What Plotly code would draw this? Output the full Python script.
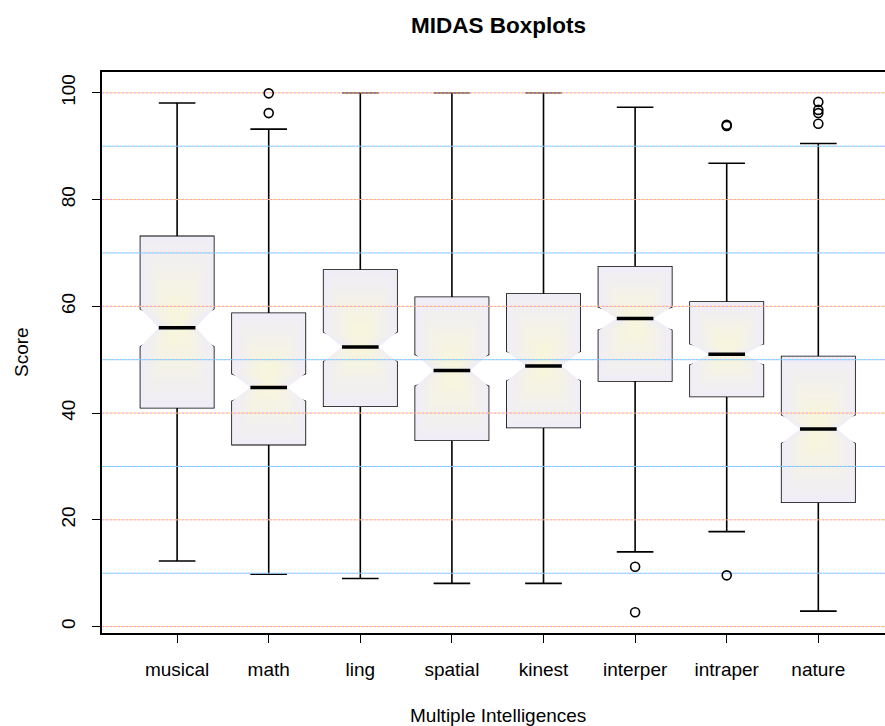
import plotly.graph_objects as go

# MIDAS scores by intelligence domain (five-number summaries read as box statistics)
categories = ["musical", "math", "ling", "spatial", "kinest", "interper", "intraper", "nature"]
q1 = [41.0, 34.1, 41.3, 34.9, 37.3, 46.0, 43.1, 23.3]
median = [56.0, 44.8, 52.4, 48.0, 48.8, 57.7, 51.0, 37.0]
q3 = [73.1, 58.7, 66.8, 61.7, 62.3, 67.4, 60.8, 50.6]
lower_whisker = [12.3, 9.8, 9.0, 8.1, 8.1, 14.0, 17.8, 2.9]
upper_whisker = [98.1, 93.2, 100.0, 100.0, 100.0, 97.3, 86.8, 90.5]
notch_half = [3.55, 2.6, 2.8, 3.0, 2.8, 2.2, 2.0, 2.7]
outliers = {
    "math": [99.9, 96.2],
    "interper": [11.2, 2.7],
    "intraper": [93.8, 94.0, 9.6],
    "nature": [98.3, 96.8, 96.2, 94.2],
}
grid_levels = [0, 10, 20, 30, 40, 50, 60, 70, 80, 90, 100]
y_ticks = [0, 20, 40, 60, 80, 100]

FONT = "Liberation Sans, Arial, Helvetica, sans-serif"
BOX_W = 0.8          # box width in category units
NOTCH_W = 0.5        # notch inset as fraction of box width
X_RANGE = [0.18, 8.728]
Y_RANGE = [-1.2, 103.9]

pos = list(range(1, len(categories) + 1))
fig = go.Figure()


def notch_outline(x, lo, med, hi, nh, hw):
    xs = [x - hw, x - hw, x - hw * NOTCH_W, x - hw, x - hw,
          x + hw, x + hw, x + hw * NOTCH_W, x + hw, x + hw, x - hw]
    ys = [lo, med - nh, med, med + nh, hi, hi, med + nh, med, med - nh, lo, lo]
    return xs, ys


# soft pastel fill: nested, shrinking copies of each notched box
outer = (240, 237, 247)
inner = (247, 245, 222)
layers = 10
for i, x in enumerate(pos):
    xs, ys = notch_outline(x, q1[i], median[i], q3[i], notch_half[i], BOX_W / 2)
    cy = (q1[i] + q3[i]) / 2
    for k in range(layers):
        s = 1.0 - 0.85 * k / layers
        t = k / (layers - 1)
        col = "rgb(%d,%d,%d)" % tuple(round(o + (n - o) * t) for o, n in zip(outer, inner))
        fig.add_trace(go.Scatter(
            x=[x + s * (px - x) for px in xs],
            y=[cy + s * (py - cy) for py in ys],
            mode="lines", fill="toself", fillcolor=col,
            line=dict(width=0), hoverinfo="skip", showlegend=False,
        ))

# coloured dotted reference lines every 10 points
def grid_trace(levels, color, dash):
    gx, gy = [], []
    for v in levels:
        gx += [X_RANGE[0], X_RANGE[1], None]
        gy += [v, v, None]
    return go.Scatter(x=gx, y=gy, mode="lines",
                      line=dict(color=color, width=1, dash=dash),
                      hoverinfo="skip", showlegend=False)

even = [v for v in grid_levels if v % 20 == 0]
odd = [v for v in grid_levels if v % 20 != 0]
fig.add_trace(grid_trace(even, "#ff8ae6", "2px,2px"))
fig.add_trace(grid_trace(even, "#f7e45a", "0px,2px,2px,0px"))
fig.add_trace(grid_trace(odd, "#62e8f2", "2px,2px"))
fig.add_trace(grid_trace(odd, "#b0a8ff", "0px,2px,2px,0px"))

# notched box outlines with whiskers and staples
fig.add_trace(go.Box(
    x=pos, q1=q1, median=median, q3=q3,
    lowerfence=lower_whisker, upperfence=upper_whisker,
    notchspan=notch_half, notched=True, notchwidth=NOTCH_W,
    width=BOX_W, whiskerwidth=0.5, boxpoints=False,
    fillcolor="rgba(0,0,0,0)", line=dict(color="black", width=1.6),
    hoverinfo="skip", showlegend=False,
))

# heavy median bars
mx, my = [], []
for i, x in enumerate(pos):
    mx += [x - BOX_W / 2 * NOTCH_W, x + BOX_W / 2 * NOTCH_W, None]
    my += [median[i], median[i], None]
fig.add_trace(go.Scatter(x=mx, y=my, mode="lines",
                         line=dict(color="black", width=3.5),
                         hoverinfo="skip", showlegend=False))

# outlying scores
ox, oy = [], []
for name, vals in outliers.items():
    x = pos[categories.index(name)]
    ox += [x] * len(vals)
    oy += vals
fig.add_trace(go.Scatter(x=ox, y=oy, mode="markers",
                         marker=dict(symbol="circle-open", size=9, color="black",
                                     line=dict(width=1.6, color="black")),
                         hoverinfo="skip", showlegend=False))

fig.update_layout(
    width=885, height=726,
    margin=dict(l=102, r=0, t=72, b=93),
    paper_bgcolor="white", plot_bgcolor="white",
    font=dict(family=FONT, size=19, color="black"),
    xaxis=dict(range=X_RANGE, tickvals=pos, ticktext=categories,
               showgrid=False, zeroline=False, showline=True, mirror=True,
               linecolor="black", linewidth=1.5,
               ticks="outside", ticklen=8, tickwidth=1.3, tickcolor="black",
               ticklabelstandoff=10, fixedrange=True),
    yaxis=dict(range=Y_RANGE, tickvals=y_ticks,
               showgrid=False, zeroline=False, showline=True, mirror=False,
               linecolor="black", linewidth=1.5,
               ticks="outside", ticklen=8, tickwidth=1.3, tickcolor="black",
               tickangle=-90, ticklabelstandoff=10, fixedrange=True),
    annotations=[
        dict(text="<b>MIDAS Boxplots</b>", xref="paper", yref="paper",
             x=(498 - 102) / 783, y=(633 - 25) / 561, xanchor="center", yanchor="middle",
             showarrow=False, font=dict(size=22.5, family=FONT)),
        dict(text="Multiple Intelligences", xref="paper", yref="paper",
             x=(498 - 102) / 783, y=(633 - 715) / 561, xanchor="center", yanchor="middle",
             showarrow=False, font=dict(size=19, family=FONT)),
        dict(text="Score", xref="paper", yref="paper", textangle=-90,
             x=(21 - 102) / 783, y=(633 - 352) / 561, xanchor="center", yanchor="middle",
             showarrow=False, font=dict(size=19, family=FONT)),
    ],
)

fig.write_html("out.html")
